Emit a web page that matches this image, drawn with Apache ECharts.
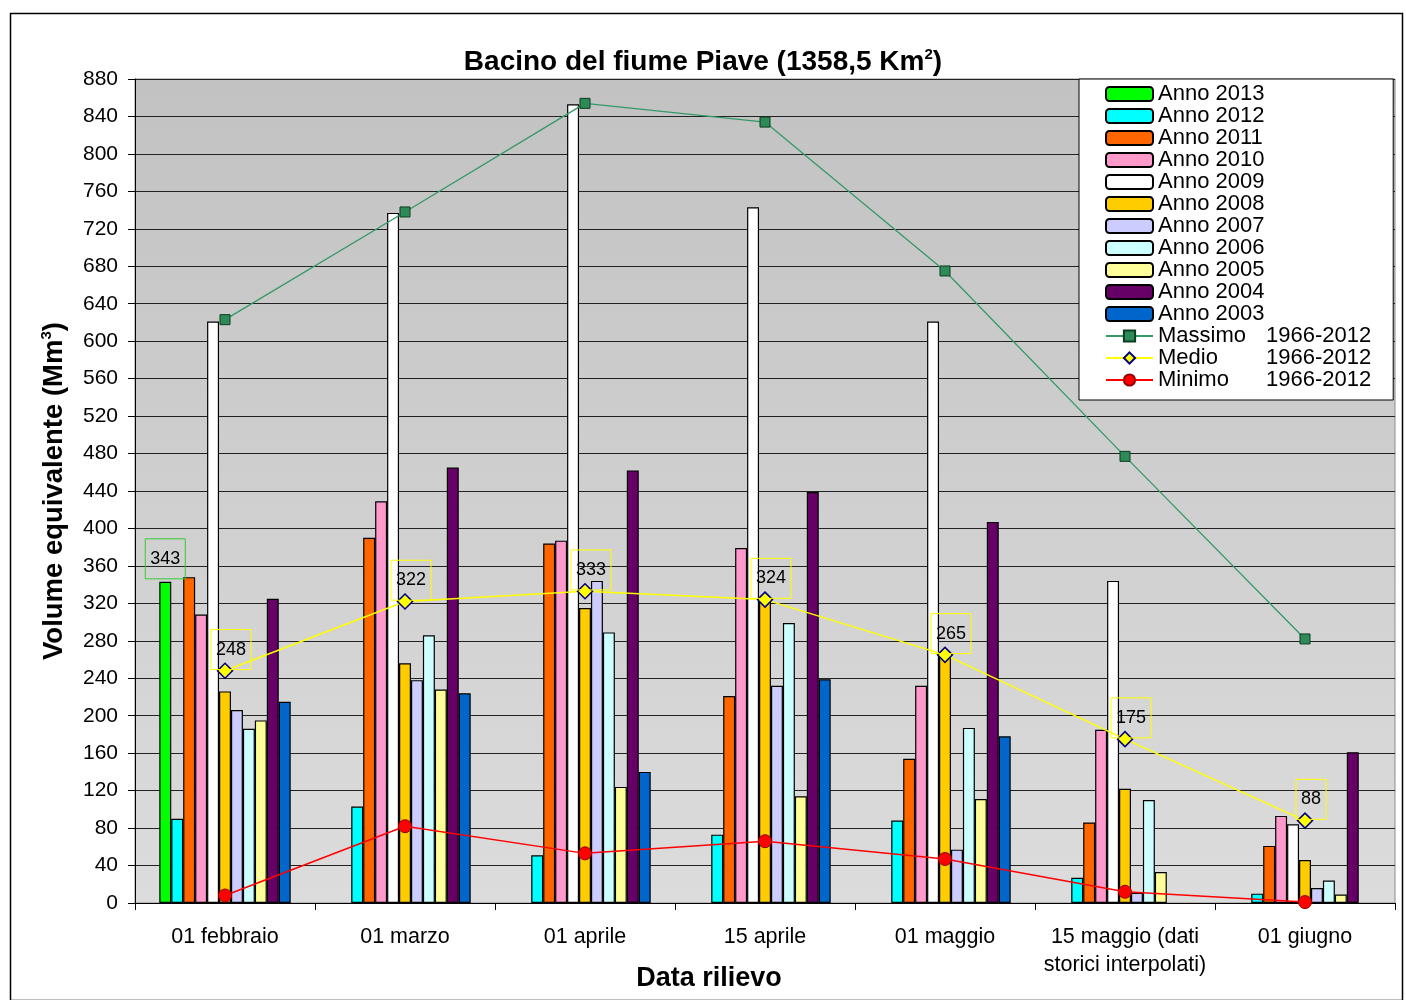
<!DOCTYPE html>
<html>
<head>
<meta charset="utf-8">
<title>Bacino del fiume Piave</title>
<script src="https://cdn.jsdelivr.net/npm/echarts@6/dist/echarts.min.js"></script>
<style>
  html, body { margin: 0; padding: 0; background: #ffffff; }
  #chart { width: 1406px; height: 1000px; }
</style>
</head>
<body>
<div id="chart"></div>
<script>
// Survey dates (x categories)
const categories = [
  '01 febbraio', '01 marzo', '01 aprile', '15 aprile', '01 maggio',
  '15 maggio (dati\nstorici interpolati)', '01 giugno'
];

// Equivalent snow water volume per year (Mm³)
const anno2013 = [343, null, null, null, null, null, null];
const anno2012 = [90, 103, 51, 73, 88, 27, 10];
const anno2011 = [348, 390, 384, 221, 154, 86, 61];
const anno2010 = [308, 429, 387, 379, 232, 185, 93];
const anno2009 = [621, 737, 853, 743, 621, 344, 84];
const anno2008 = [226, 256, 315, 322, 266, 122, 46];
const anno2007 = [206, 238, 344, 232, 57, 11, 16];
const anno2006 = [186, 286, 289, 299, 187, 110, 24];
const anno2005 = [195, 228, 124, 114, 111, 33, 9];
const anno2004 = [325, 465, 462, 439, 407, null, 161];
const anno2003 = [215, 224, 140, 239, 178, null, null];

// Historical statistics 1966-2012
const massimo = [623, 738, 854, 834, 675, 477, 282];
const medio = [248, 322, 333, 324, 265, 175, 88];
const minimo = [8, 82, 53, 66, 47, 12, 1];

// Value axis ticks
const yMin = 0;
const yMax = 880;
const yStep = 40;

const FONT = '"Liberation Sans", Arial, sans-serif';

const barDefs = [
  ['Anno 2013', anno2013, '#00ff00'],
  ['Anno 2012', anno2012, '#00ffff'],
  ['Anno 2011', anno2011, '#ff6600'],
  ['Anno 2010', anno2010, '#ff99cc'],
  ['Anno 2009', anno2009, '#ffffff'],
  ['Anno 2008', anno2008, '#ffcc00'],
  ['Anno 2007', anno2007, '#ccccff'],
  ['Anno 2006', anno2006, '#ccffff'],
  ['Anno 2005', anno2005, '#ffff99'],
  ['Anno 2004', anno2004, '#660066'],
  ['Anno 2003', anno2003, '#0066cc']
];

const series = barDefs.map(([name, values, color], i) => {
  const s = {
    name: name,
    type: 'bar',
    data: values,
    barGap: '0%',
    barCategoryGap: '27%',
    itemStyle: { color: color, borderColor: '#000000', borderWidth: 1.2 },
    z: 2
  };
  if (i === 0) {
    // value box above the current-year bar
    s.label = {
      show: true,
      position: 'top',
      distance: 3,
      formatter: '{c}',
      fontFamily: FONT,
      fontSize: 18,
      lineHeight: 18,
      color: '#000000',
      borderColor: '#33cc33',
      borderWidth: 1,
      padding: [11, 5, 11, 5]
    };
  }
  return s;
});

series.push({
  name: 'Massimo 1966-2012',
  type: 'line',
  data: massimo,
  symbol: 'rect',
  symbolSize: 10,
  lineStyle: { color: '#339966', width: 1.3 },
  itemStyle: { color: '#2e8b57', borderColor: '#0b3d20', borderWidth: 1 },
  z: 5
});
series.push({
  name: 'Medio 1966-2012',
  type: 'line',
  data: medio,
  symbol: 'diamond',
  symbolSize: 15,
  lineStyle: { color: '#ffff00', width: 1.5 },
  itemStyle: { color: '#ffff00', borderColor: '#000080', borderWidth: 1.5 },
  label: {
    show: true,
    position: 'top',
    distance: -7,
    offset: [6, 0],
    formatter: '{c}',
    fontFamily: FONT,
    fontSize: 18,
    lineHeight: 18,
    color: '#000000',
    borderColor: '#ffff00',
    borderWidth: 1,
    padding: [11, 5, 11, 5]
  },
  z: 6
});
series.push({
  name: 'Minimo 1966-2012',
  type: 'line',
  data: minimo,
  symbol: 'circle',
  symbolSize: 13,
  lineStyle: { color: '#ff0000', width: 1.5 },
  itemStyle: { color: '#ff0000', borderColor: '#990000', borderWidth: 1 },
  z: 5
});

const chart = echarts.init(document.getElementById('chart'), null, { renderer: 'canvas' });

chart.setOption({
  animation: false,
  backgroundColor: '#ffffff',
  textStyle: { fontFamily: FONT, color: '#000000' },
  title: {
    text: '{t|Bacino del fiume Piave (1358,5 Km}{s|2}{t|)}',
    left: 'center',
    top: 42,
    textStyle: {
      rich: {
        t: { fontFamily: FONT, fontSize: 28, fontWeight: 'bold', color: '#000000', lineHeight: 30 },
        s: { fontFamily: FONT, fontSize: 15, fontWeight: 'bold', color: '#000000', lineHeight: 15, verticalAlign: 'top' }
      }
    }
  },
  grid: {
    left: 135,
    right: 11,
    top: 79,
    bottom: 97,
    outerBoundsMode: 'none',
    containLabel: false,
    show: true,
    backgroundColor: new echarts.graphic.LinearGradient(0, 0, 0, 1, [
      { offset: 0, color: '#c2c2c2' },
      { offset: 1, color: '#dcdcdc' }
    ]),
    borderColor: '#8c8c8c',
    borderWidth: 1
  },
  legend: {
    orient: 'vertical',
    left: 1079,
    top: 79,
    padding: [4, 22, 9, 26],
    itemWidth: 47,
    itemHeight: 14,
    itemGap: 0,
    backgroundColor: '#ffffff',
    borderColor: '#000000',
    borderWidth: 1,
    data: series.map(s => s.name),
    formatter: function (name) {
      const idx = name.lastIndexOf(' ');
      if (name.indexOf('1966') >= 0) {
        return '{a|' + name.slice(0, idx) + '}{b|' + name.slice(idx + 1) + '}';
      }
      return '{b|' + name + '}';
    },
    textStyle: {
      fontFamily: FONT,
      fontSize: 22,
      lineHeight: 22,
      color: '#000000',
      rich: {
        a: { fontFamily: FONT, fontSize: 22, lineHeight: 22, width: 108, color: '#000000' },
        b: { fontFamily: FONT, fontSize: 22, lineHeight: 22, color: '#000000' }
      }
    }
  },
  xAxis: {
    type: 'category',
    data: categories,
    name: 'Data rilievo',
    nameLocation: 'middle',
    nameGap: 61,
    nameMoveOverlap: false,
    nameTextStyle: {
      fontFamily: FONT, fontSize: 27, fontWeight: 'bold', color: '#000000', lineHeight: 30,
      padding: [0, 112, 0, 0]
    },
    axisLine: { lineStyle: { color: '#000000', width: 1 } },
    axisTick: { show: true, length: 7, lineStyle: { color: '#000000' } },
    axisLabel: { fontFamily: FONT, fontSize: 21.5, lineHeight: 28, color: '#000000', margin: 20, interval: 0 },
    splitLine: { show: false }
  },
  yAxis: {
    type: 'value',
    min: yMin,
    max: yMax,
    interval: yStep,
    name: '{t|Volume equivalente (Mm}{s|3}{t|)}',
    nameLocation: 'middle',
    nameRotate: 90,
    nameGap: 66,
    nameMoveOverlap: false,
    nameTextStyle: {
      rich: {
        t: { fontFamily: FONT, fontSize: 27.5, fontWeight: 'bold', color: '#000000', lineHeight: 30 },
        s: { fontFamily: FONT, fontSize: 15, fontWeight: 'bold', color: '#000000', lineHeight: 15, verticalAlign: 'top' }
      }
    },
    axisLine: { show: true, lineStyle: { color: '#000000', width: 1 } },
    axisTick: { show: true, length: 7, lineStyle: { color: '#000000' } },
    axisLabel: { fontFamily: FONT, fontSize: 21, color: '#000000', margin: 17 },
    splitLine: { show: true, lineStyle: { color: '#222222', width: 1 } }
  },
  graphic: [
    {
      type: 'rect',
      left: 8,
      top: 11,
      shape: { width: 1392, height: 987 },
      style: { fill: null, stroke: '#000000', lineWidth: 1.5 },
      silent: true,
      z: -1
    }
  ],
  series: series
});
</script>
</body>
</html>
